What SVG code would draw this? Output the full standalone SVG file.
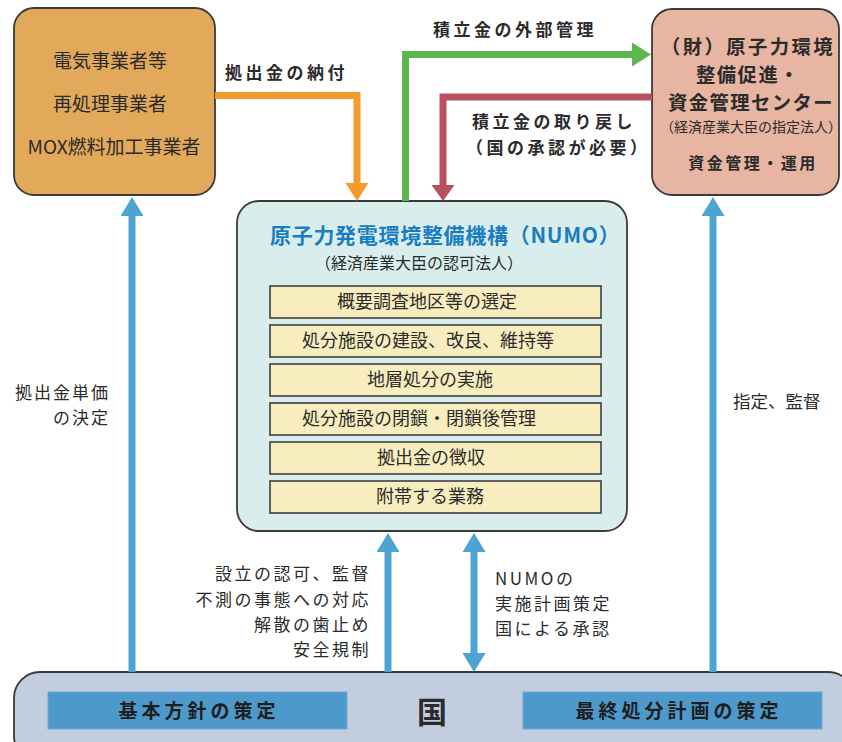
<svg xmlns="http://www.w3.org/2000/svg" width="842" height="742" viewBox="0 0 842 742">
<style>
text{font-family:"Noto Sans CJK JP","Noto Sans CJK SC",sans-serif;fill:#2b2b2b}
.box{stroke:#3a3a3a;stroke-width:1.8}
.row{fill:#F7EDBF;stroke:#3f3f3f;stroke-width:1.6}
.rowt{font-size:18px;text-anchor:middle}
.lbl{font-size:17px;font-weight:bold;letter-spacing:3.5px}
.mid{font-size:17px;letter-spacing:2.5px}
.blu{fill:none;stroke:#4DA3D3;stroke-width:7}
.brect{fill:#4E99CC;stroke:#6aaad6;stroke-width:1}
.bt{font-size:19px;font-weight:bold;letter-spacing:4px;text-anchor:middle;fill:#1e1e1e}
.pt{font-size:19.3px;font-weight:bold;text-anchor:middle}
</style>
<defs>
<marker id="hb" markerUnits="userSpaceOnUse" markerWidth="20" markerHeight="24" refX="0" refY="11.5" orient="auto-start-reverse"><path d="M0,0 L19,11.5 L0,23 z" fill="#4DA3D3"/></marker>
<marker id="ho" markerUnits="userSpaceOnUse" markerWidth="20" markerHeight="24" refX="0" refY="11.5" orient="auto"><path d="M0,0 L18,11.5 L0,23 z" fill="#F39C2C"/></marker>
<marker id="hg" markerUnits="userSpaceOnUse" markerWidth="20" markerHeight="25" refX="0" refY="12" orient="auto"><path d="M0,0 L19,12 L0,24 z" fill="#5CB84E"/></marker>
<marker id="hr" markerUnits="userSpaceOnUse" markerWidth="20" markerHeight="24" refX="0" refY="11.5" orient="auto"><path d="M0,0 L16,11.5 L0,23 z" fill="#B8505E"/></marker>
</defs>

<g id="utilities">
<rect class="box" x="14" y="8" width="201" height="187" rx="20" fill="#E3A95A"/>
<text x="110" y="68" font-size="19" text-anchor="middle">電気事業者等</text>
<text x="110" y="111" font-size="19" text-anchor="middle">再処理事業者</text>
<text x="114" y="154" font-size="19" text-anchor="middle">MOX燃料加工事業者</text>
</g>

<g id="fund-center">
<rect class="box" x="652" y="9" width="187" height="186" rx="20" fill="#E8B5A2"/>
<text class="pt" x="748" y="54" letter-spacing="2.5">（財）原子力環境</text>
<text class="pt" x="748" y="82" letter-spacing="1.5">整備促進・</text>
<text class="pt" x="751" y="110" letter-spacing="1.5">資金管理センター</text>
<text x="751" y="132" font-size="14" text-anchor="middle">（経済産業大臣の指定法人）</text>
<text x="753" y="169" font-size="16" font-weight="bold" text-anchor="middle" letter-spacing="2.5">資金管理・運用</text>
</g>

<g id="numo">
<rect class="box" x="237" y="201" width="390" height="330" rx="22" fill="#D9EEEC"/>
<text x="270" y="243" font-size="21" font-weight="bold" letter-spacing="0.7" style="fill:#1A7DC2">原子力発電環境整備機構（NUMO）</text>
<text x="419" y="269" font-size="16" text-anchor="middle">（経済産業大臣の認可法人）</text>
<rect class="row" x="270" y="286" width="331" height="32"/>
<text class="rowt" x="427" y="308">概要調査地区等の選定</text>
<rect class="row" x="270" y="325" width="331" height="32"/>
<text class="rowt" x="428" y="347" font-size="17.5">処分施設の建設、改良、維持等</text>
<rect class="row" x="270" y="364" width="331" height="32"/>
<text class="rowt" x="430" y="386">地層処分の実施</text>
<rect class="row" x="270" y="403" width="331" height="32"/>
<text class="rowt" x="419" y="425">処分施設の閉鎖・閉鎖後管理</text>
<rect class="row" x="270" y="442" width="331" height="32"/>
<text class="rowt" x="431" y="464">拠出金の徴収</text>
<rect class="row" x="270" y="481" width="331" height="32"/>
<text class="rowt" x="430" y="503">附帯する業務</text>
</g>

<g id="state">
<rect class="box" x="14" y="672" width="840" height="90" rx="26" fill="#C2CEDF"/>
<rect class="brect" x="48" y="692" width="299" height="37"/>
<text class="bt" x="199" y="718">基本方針の策定</text>
<rect class="brect" x="523" y="692" width="299" height="37"/>
<text class="bt" x="679" y="718">最終処分計画の策定</text>
<text x="432" y="723" font-size="30" font-weight="bold" text-anchor="middle" fill="#1e1e1e">国</text>
</g>

<g id="connectors">
<path d="M215,95.5 H357 V183" fill="none" stroke="#F39C2C" stroke-width="7" marker-end="url(#ho)"/>
<path d="M405.5,201 V54.5 H632" fill="none" stroke="#5CB84E" stroke-width="7" marker-end="url(#hg)"/>
<path d="M652,97 H443 V185" fill="none" stroke="#B8505E" stroke-width="7" marker-end="url(#hr)"/>
<path class="blu" d="M132,672 V216" marker-end="url(#hb)"/>
<path class="blu" d="M713,672 V216" marker-end="url(#hb)"/>
<path class="blu" d="M388,672 V552" marker-end="url(#hb)"/>
<path class="blu" d="M474,552 V653" marker-start="url(#hb)" marker-end="url(#hb)"/>
<text class="lbl" x="225" y="79">拠出金の納付</text>
<text class="lbl" x="433" y="36">積立金の外部管理</text>
<text class="lbl" x="472" y="128" letter-spacing="3">積立金の取り戻し</text>
<text class="lbl" x="466" y="154" letter-spacing="1">（国の承認が必要）</text>
<text x="110" y="399" font-size="17" letter-spacing="2" text-anchor="end">拠出金単価</text>
<text x="110" y="424" font-size="17" letter-spacing="2" text-anchor="end">の決定</text>
<text x="733" y="408" font-size="17.5">指定、監督</text>
<text class="mid" x="371" y="580" text-anchor="end">設立の認可、監督</text>
<text class="mid" x="371" y="606" text-anchor="end">不測の事態への対応</text>
<text class="mid" x="371" y="631" text-anchor="end">解散の歯止め</text>
<text class="mid" x="371" y="656" text-anchor="end">安全規制</text>
<text class="mid" x="495" y="585" letter-spacing="3">NUMOの</text>
<text class="mid" x="495" y="610" letter-spacing="4">実施計画策定</text>
<text class="mid" x="495" y="635" letter-spacing="4">国による承認</text>
</g>
</svg>
